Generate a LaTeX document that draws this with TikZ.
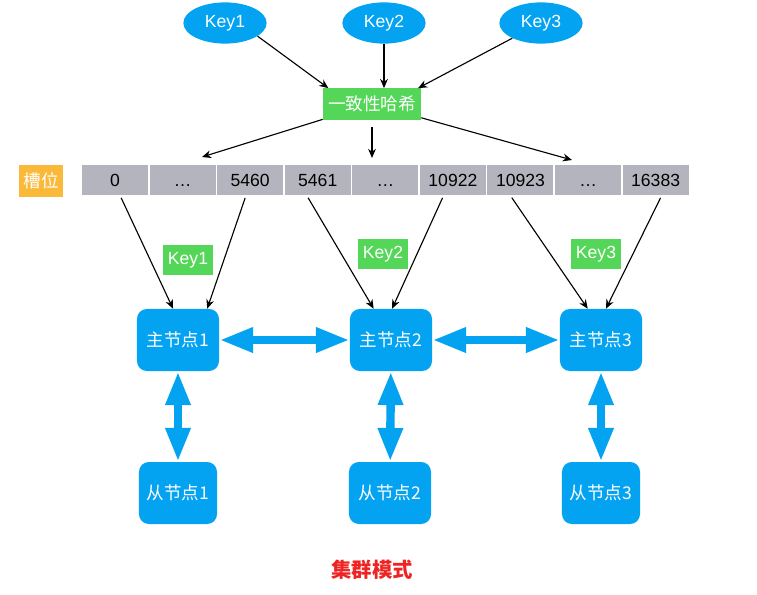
\documentclass[tikz,border=0pt]{standalone}
\usepackage{fontspec}
\setmainfont{Liberation Sans}
\newfontfamily\cjk{Noto Sans CJK SC}
\usepackage{xcolor}
\usetikzlibrary{arrows.meta, positioning, shapes.geometric}

\definecolor{nodeblue}{RGB}{3,163,242}
\definecolor{hashgreen}{RGB}{84,214,88}
\definecolor{slotgray}{RGB}{180,180,190}
\definecolor{slotorange}{RGB}{251,185,58}
\definecolor{titlered}{RGB}{240,35,35}

\tikzset{
    keyellipse/.style={ellipse, fill=nodeblue, text=white, minimum width=2.08cm, minimum height=1.03cm, inner sep=0pt},
    hashbox/.style={rectangle, fill=hashgreen, text=white, minimum width=2.45cm, minimum height=0.78cm, inner sep=0pt},
    slotcell/.style={rectangle, fill=slotgray, minimum width=1.65cm, minimum height=0.75cm, inner sep=0pt, text height=9pt, text depth=0pt},
    slotlabel/.style={rectangle, fill=slotorange, text=white, minimum width=1.1cm, minimum height=0.8cm, inner sep=0pt},
    keytag/.style={rectangle, fill=hashgreen, text=white, minimum width=1.25cm, minimum height=0.75cm, inner sep=0pt},
    nodebox/.style={rectangle, rounded corners=7pt, fill=nodeblue, text=white, minimum width=2.05cm, minimum height=1.55cm, inner sep=0pt},
    thin arrow/.style={-{Stealth[length=6.5pt, width=5.5pt]}, line width=0.8pt},
    fat arrow/.style={{Triangle[length=24pt, width=16.5pt]}-{Triangle[length=24pt, width=16.5pt]}, line width=6pt, draw=nodeblue}
}

\begin{document}
\begin{tikzpicture}[x=0.025cm, y=-0.025cm, font=\fontsize{12.5}{15}\selectfont]
        \useasboundingbox (0,0) rectangle (757,594);

        % Keys and hash
        \node (key1) [keyellipse] at (225,23) {Key1};
        \node (key2) [keyellipse] at (384,23) {Key2};
        \node (key3) [keyellipse] at (541,23) {Key3};
        \node (hash) [hashbox] at (372,104) {\cjk 一致性哈希};

        % Slots
        \node (slots) [slotlabel] at (41,181) {\cjk 槽位};
        \node (s0) [slotcell] at (115,180) {0};
        \node (s1) [slotcell, right=0.025cm of s0] {\dots};
        \node (s2) [slotcell, right=0.025cm of s1] {5460};
        \node (s3) [slotcell, right=0.025cm of s2] {5461};
        \node (s4) [slotcell, right=0.025cm of s3] {\dots};
        \node (s5) [slotcell, right=0.025cm of s4] {10922};
        \node (s6) [slotcell, right=0.025cm of s5] {10923};
        \node (s7) [slotcell, right=0.025cm of s6] {\dots};
        \node (s8) [slotcell, right=0.025cm of s7] {16383};

        \coordinate (h1) at (202,157);
        \coordinate (h2) at (372,158);
        \coordinate (h3) at (572,160);

        % Key tags
        \node (tag1) [keytag] at (188,260) {Key1};
        \node (tag2) [keytag] at (383,254) {Key2};
        \node (tag3) [keytag] at (596,254) {Key3};

        % Master and slave nodes
        \node (m1) [nodebox] at (178,340) {\cjk 主节点1};
        \node (m2) [nodebox] at (391,340) {\cjk 主节点2};
        \node (m3) [nodebox] at (601,340) {\cjk 主节点3};
        \node (r1) [nodebox, minimum width=1.95cm] at (178,493) {\cjk 从节点1};
        \node (r2) [nodebox] at (390,493) {\cjk 从节点2};
        \node (r3) [nodebox, minimum width=1.95cm] at (601,493) {\cjk 从节点3};

        \node (title) at (372,570) {\fontsize{14.5}{17}\selectfont\cjk\bfseries\color{titlered}集群模式};

        % Arrows
        \draw[thin arrow] (key1.-22) -- (hash.160);
        \draw[thin arrow] (key2) -- (key2 |- hash.north);
        \draw[thin arrow] (key3) -- (hash.19);
        \draw[thin arrow] (hash) -- (h1);
        \draw[thin arrow, shorten <=5pt] (hash) -- (h2);
        \draw[thin arrow] (hash) -- (h3);

        \draw[thin arrow, shorten <=2pt] (s0.288) -- (m1.99);
        \draw[thin arrow, shorten <=2pt] (s2.255) -- (m1.47);
        \draw[thin arrow, shorten <=2pt] (s3.234) -- (m2.119);
        \draw[thin arrow, shorten <=2pt] (s5.239) -- (m2.88);
        \draw[thin arrow, shorten <=2pt] (s6.236) -- (m3.113);
        \draw[thin arrow, shorten <=2pt] (s8.292) -- (m3.81);

        \draw[fat arrow] (m1) -- (m2);
        \draw[fat arrow] (m2) -- (m3);
        \draw[fat arrow] (m1) -- (r1);
        \draw[fat arrow] (m2) -- (r2);
        \draw[fat arrow] (m3) -- (r3);
    \end{tikzpicture}
\end{document}
